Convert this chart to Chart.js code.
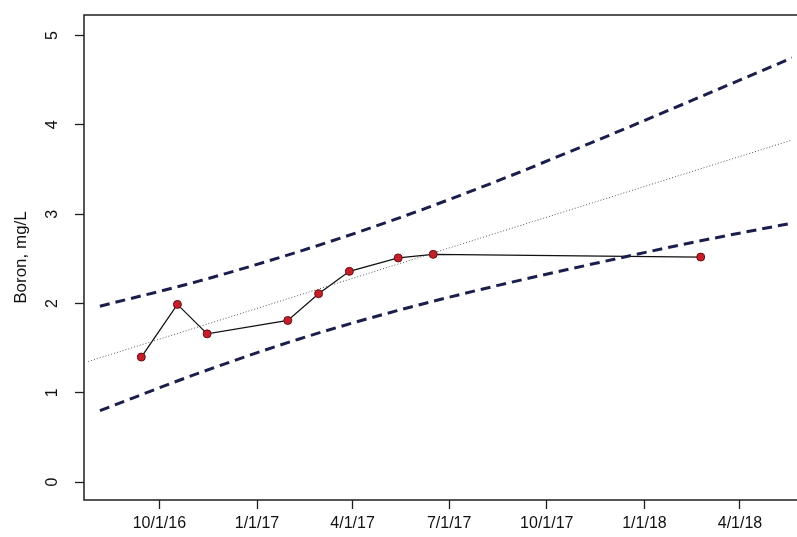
<!doctype html>
<html>
<head>
  <meta charset="utf-8" />
  <title>Boron, mg/L</title>
  <style>
    body { margin: 0; background: #fff; overflow: hidden; }
    #wrap { width: 797px; height: 537px; position: relative; }
  </style>
  <script src="https://cdn.jsdelivr.net/npm/chart.js"></script>
</head>
<body>
  <div id="wrap"><canvas id="boron"></canvas></div>
  <script>
    // values
    const xTickLabels = ['10/1/16', '1/1/17', '4/1/17', '7/1/17', '10/1/17', '1/1/18', '4/1/18'];
    const xTickDates = ['2016-10-01', '2017-01-01', '2017-04-01', '2017-07-01', '2017-10-01', '2018-01-01', '2018-04-01'];
    const yTicks = [0, 1, 2, 3, 4, 5];

    const sampleDates = ['2016-09-14', '2016-10-18', '2016-11-15', '2017-01-30', '2017-02-28', '2017-03-29', '2017-05-14', '2017-06-16', '2018-02-23'];
    const boron = [1.40, 1.99, 1.66, 1.81, 2.11, 2.36, 2.51, 2.55, 2.52];

    const trendDates = ['2016-07-26', '2018-05-20'];
    const trendValues = [1.35, 3.83];

    const bandDates = ['2016-08-06', '2016-11-07', '2017-02-09', '2017-05-13', '2017-08-15', '2017-11-16', '2018-02-18', '2018-05-20'];
    const upperBand = [1.97, 2.25, 2.58, 2.95, 3.37, 3.82, 4.29, 4.75];
    const lowerBand = [0.80, 1.22, 1.60, 1.92, 2.20, 2.45, 2.69, 2.90];

    // days since 10/1/16 used as the x value
    const origin = Date.UTC(2016, 9, 1);
    function toDay(s) {
      const [y, m, d] = s.split('-').map(Number);
      return Math.round((Date.UTC(y, m - 1, d) - origin) / 864e5);
    }
    const pts = (dates, vals) => dates.map((d, i) => ({ x: toDay(d), y: vals[i] }));

    const ink = '#1e1e1e';
    const band = '#1b1e4a';

    const boxPlugin = {
      id: 'box',
      afterDraw(chart) {
        const { ctx, chartArea: a } = chart;
        ctx.save();
        ctx.strokeStyle = ink;
        ctx.lineWidth = 1.5;
        ctx.strokeRect(a.left, a.top, a.right - a.left + 10, a.bottom - a.top);
        ctx.restore();
      }
    };

    new Chart(document.getElementById('boron'), {
      type: 'line',
      data: {
        datasets: [
          { data: pts(bandDates, upperBand), borderColor: band, borderWidth: 3, borderDash: [10, 6], pointRadius: 0, cubicInterpolationMode: 'monotone' },
          { data: pts(bandDates, lowerBand), borderColor: band, borderWidth: 3, borderDash: [10, 6], pointRadius: 0, cubicInterpolationMode: 'monotone' },
          { data: pts(trendDates, trendValues), borderColor: '#555', borderWidth: 1, borderDash: [1, 2], pointRadius: 0 },
          { data: pts(sampleDates, boron), borderColor: '#111', borderWidth: 1.3, pointRadius: 4, pointBackgroundColor: '#c4202b', pointBorderColor: '#6a0c10', pointBorderWidth: 1, tension: 0 }
        ]
      },
      options: {
        responsive: true,
        maintainAspectRatio: false,
        animation: false,
        layout: { padding: { top: 15, right: 0, left: 0, bottom: 0 } },
        plugins: { legend: { display: false }, tooltip: { enabled: false } },
        scales: {
          x: {
            type: 'linear',
            min: -71,
            max: 596,
            border: { display: false },
            grid: { drawOnChartArea: false, drawTicks: true, tickLength: 9, tickColor: ink, tickWidth: 1.3 },
            ticks: {
              autoSkip: false, maxRotation: 0, padding: 5, color: '#111',
              font: { family: 'Liberation Sans', size: 16 },
              callback: (v, i) => xTickLabels[i]
            },
            afterBuildTicks: (s) => { s.ticks = xTickDates.map(d => ({ value: toDay(d) })); },
            afterFit: (s) => { s.height = 37; s.paddingLeft = 0; s.paddingRight = 0; }
          },
          y: {
            min: -0.2,
            max: 5.23,
            border: { display: false },
            grid: { drawOnChartArea: false, drawTicks: true, tickLength: 9, tickColor: ink, tickWidth: 1.3 },
            ticks: {
              minRotation: 90, maxRotation: 90, crossAlign: 'center', padding: 18, color: '#111',
              font: { family: 'Liberation Sans', size: 16 }
            },
            afterBuildTicks: (s) => { s.ticks = yTicks.map(v => ({ value: v })); },
            title: {
              display: true, text: 'Boron, mg/L', color: '#111',
              font: { family: 'Liberation Sans', size: 17 },
              padding: { top: 11, bottom: 0 }
            },
            afterFit: (s) => { s.width = 84; s.paddingTop = 0; s.paddingBottom = 0; }
          }
        }
      },
      plugins: [boxPlugin]
    });
  </script>
</body>
</html>
